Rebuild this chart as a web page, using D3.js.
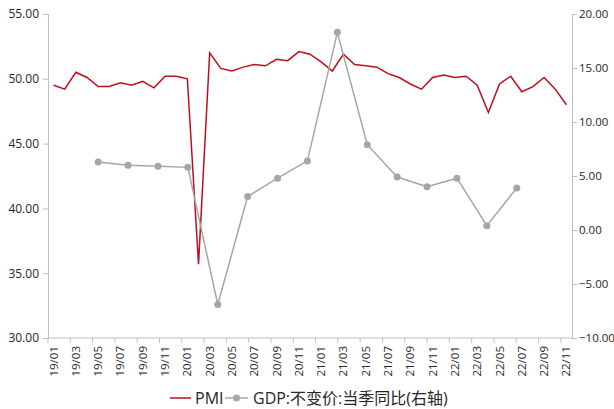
<!DOCTYPE html>
<html>
<head>
<meta charset="utf-8">
<script src="https://cdn.jsdelivr.net/npm/d3@7"></script>
<style>
  body { margin: 0; background: #fff; }
  svg text { font-family: "Open Sans", "Noto Sans CJK SC", sans-serif; fill: #262626; }
</style>
</head>
<body>
<div class="container"></div>
<script>
// months 19/01 .. 22/11
var months = [];
for (var y = 19; y <= 22; y++) {
    for (var m = 1; m <= 12; m++) {
        if (y == 22 && m > 11) break;
        months.push(y + "/" + (m < 10 ? "0" + m : m));
    }
}

var pmi = [49.5, 49.2, 50.5, 50.1, 49.4, 49.4, 49.7, 49.5, 49.8, 49.3, 50.2, 50.2,
           50.0, 35.7, 52.0, 50.8, 50.6, 50.9, 51.1, 51.0, 51.5, 51.4, 52.1, 51.9,
           51.3, 50.6, 51.9, 51.1, 51.0, 50.9, 50.4, 50.1, 49.6, 49.2, 50.1, 50.3,
           50.1, 50.2, 49.5, 47.4, 49.6, 50.2, 49.0, 49.4, 50.1, 49.2, 48.0];

var quarters = ["19Q1", "19Q2", "19Q3", "19Q4", "20Q1", "20Q2", "20Q3", "20Q4",
                "21Q1", "21Q2", "21Q3", "21Q4", "22Q1", "22Q2", "22Q3"];
var gdp = [6.3, 6.0, 5.9, 5.8, -6.9, 3.1, 4.8, 6.4, 18.3, 7.9, 4.9, 4.0, 4.8, 0.4, 3.9];

var leftTicks = [30, 35, 40, 45, 50, 55];
var rightTicks = [-10, -5, 0, 5, 10, 15, 20];

var width = 614, height = 409;
var margin = {top: 14, right: 42, bottom: 71, left: 48};

var svg = d3.select("div.container").append("svg")
    .attr("width", width)
    .attr("height", height);

var x = d3.scaleBand().domain(months).range([margin.left, width - margin.right]);
var yL = d3.scaleLinear().domain([30, 55]).range([height - margin.bottom, margin.top]);
var yR = d3.scaleLinear().domain([-10, 20]).range([height - margin.bottom, margin.top]);
// GDP is drawn on its own quarter axis, spread from the 19/05 slot to the 22/07 slot
var xq = d3.scalePoint().domain(quarters)
    .range([x("19/05") + x.bandwidth() / 2, x("22/07") + 0.5]);

var axisColor = "#bfbfbf";

// left axis
var gL = svg.append("g")
    .attr("transform", "translate(" + margin.left + ",0)")
    .call(d3.axisLeft(yL).tickValues(leftTicks).tickSize(5).tickPadding(4).tickFormat(d3.format(".2f")));
// right axis
var gR = svg.append("g")
    .attr("transform", "translate(" + (width - margin.right) + ",0)")
    .call(d3.axisRight(yR).tickValues(rightTicks).tickSize(5).tickPadding(2).tickFormat(d3.format(".2f")));

// bottom axis: ticks on band edges every 2 months
var edgeTicks = d3.range(0, months.length + 1, 2).map(function(i) {
    return margin.left + i * x.step();
});
var gB = svg.append("g")
    .attr("transform", "translate(0," + (height - margin.bottom) + ")");
gB.append("line")
    .attr("x1", margin.left).attr("x2", width - margin.right)
    .attr("stroke", axisColor);
gB.selectAll(".et").data(edgeTicks).enter().append("line")
    .attr("x1", function(d) { return d; }).attr("x2", function(d) { return d; })
    .attr("y1", 0).attr("y2", 5)
    .attr("stroke", axisColor);
gB.selectAll(".xl").data(months.filter(function(d, i) { return i % 2 == 0; }))
    .enter().append("text")
    .attr("transform", function(d) {
        return "translate(" + (x(d) + x.bandwidth() / 2 + 4) + ",8) rotate(-90)";
    })
    .attr("text-anchor", "end")
    .style("font-size", "11.5px")
    .text(function(d) { return d; });

[gL, gR].forEach(function(g) {
    g.select(".domain").attr("stroke", axisColor);
    g.selectAll(".tick line").attr("stroke", axisColor);
    g.selectAll(".tick text").style("font-size", "12px").style("fill", "#262626");
});
gR.selectAll(".tick text").style("font-size", "11.5px");

// PMI line
var pmiLine = d3.line()
    .x(function(d, i) { return x(months[i]) + x.bandwidth() / 2; })
    .y(function(d) { return yL(d); });
svg.append("path")
    .datum(pmi)
    .attr("d", pmiLine)
    .attr("fill", "none")
    .attr("stroke", "#c00d1e")
    .attr("stroke-width", 1.5);

// GDP line
var gdpLine = d3.line()
    .x(function(d, i) { return xq(quarters[i]); })
    .y(function(d) { return yR(d); });
svg.append("path")
    .datum(gdp)
    .attr("d", gdpLine)
    .attr("fill", "none")
    .attr("stroke", "#a6a6a6")
    .attr("stroke-width", 1.5);
svg.selectAll(".gdot").data(gdp).enter().append("circle")
    .attr("cx", function(d, i) { return xq(quarters[i]); })
    .attr("cy", function(d) { return yR(d); })
    .attr("r", 3.5)
    .attr("fill", "#a6a6a6");

// legend
var lg = svg.append("g").attr("transform", "translate(0,398)");
lg.append("line").attr("x1", 170).attr("x2", 191).attr("stroke", "#c00d1e").attr("stroke-width", 1.5);
lg.append("text").attr("x", 195).attr("y", 6).style("font-size", "16px").text("PMI");
lg.append("line").attr("x1", 225).attr("x2", 248).attr("stroke", "#a6a6a6").attr("stroke-width", 1.5);
lg.append("circle").attr("cx", 236.5).attr("cy", 0).attr("r", 3.5).attr("fill", "#a6a6a6");
lg.append("text").attr("x", 253).attr("y", 6).style("font-size", "16px").text("GDP:不变价:当季同比(右轴)");
</script>
</body>
</html>
